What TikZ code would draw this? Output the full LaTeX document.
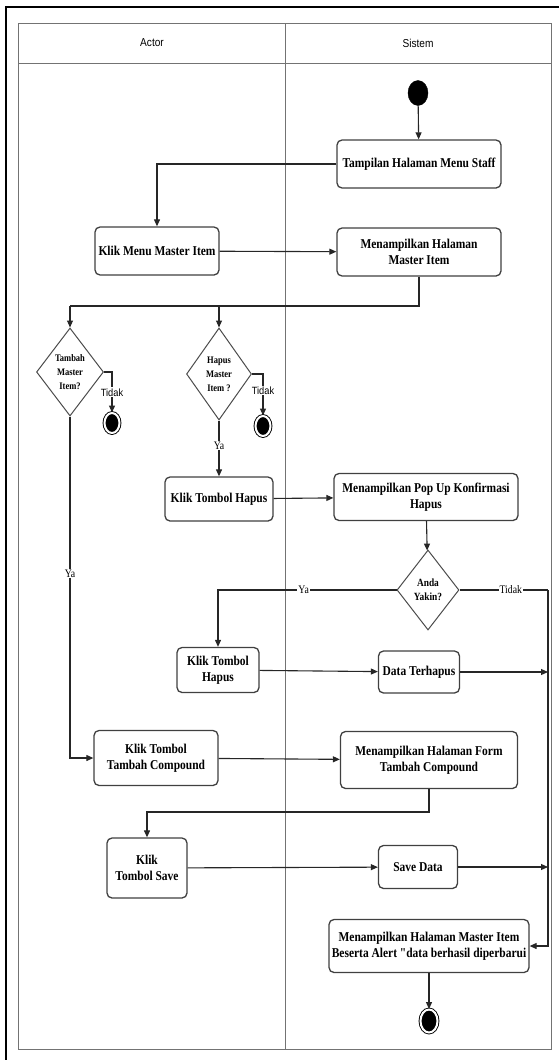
\documentclass[tikz,border=0pt]{standalone}
\usepackage{fontspec}
\usetikzlibrary{arrows.meta,shapes.geometric,calc}
\newfontfamily\serifcond[FakeStretch=0.85]{Liberation Serif}
\newfontfamily\sanscond[FakeStretch=0.88]{Liberation Sans}

\begin{document}
\begin{tikzpicture}[x=1pt,y=-1pt,
  act/.style={draw=black!75, line width=1.3pt, rounded corners=5pt, fill=white,
    align=center, inner sep=1pt,
    font=\serifcond\bfseries\fontsize{13.5}{15.5}\selectfont},
  dec/.style={diamond, draw=black!70, line width=1pt, fill=white, inner sep=0pt,
    align=center},
  flow/.style={draw=black!85, line width=1.1pt, -{Triangle[length=7pt,width=6pt]}},
  link/.style={draw=black!85, line width=1.1pt},
  lane/.style={draw=black!55, line width=1pt},
  serlbl/.style={fill=white, inner sep=1pt, font=\serifcond\fontsize{11.5}{12}\selectfont},
  sanslbl/.style={fill=white, inner sep=1pt, font=\sanscond\fontsize{10.5}{11}\selectfont},
  startnode/.style={ellipse, fill=black, draw=black, minimum width=20pt, minimum height=25pt, inner sep=0pt},
  endnode/.style={ellipse, fill=black, draw=black, line width=0.9pt, double=white,
    double distance=2pt, minimum width=15pt, minimum height=20pt, inner sep=0pt},
  hdr/.style={font=\sanscond\fontsize{11.5}{12}\selectfont}
]
\useasboundingbox (0,0) rectangle (559,1060);

% outer frame
\draw[line width=2.5pt] (6,1065) -- (6,7) -- (565,7);

% swimlanes
\draw[lane] (18,23) rectangle (551,1049);
\draw[lane] (18,63) -- (551,63);
\draw[lane] (285,23) -- (285,1049);
\node[hdr] (hActor) at (152,43) {Actor};
\node[hdr] (hSistem) at (418,43) {Sistem};

% activities
\node[startnode] (start) at (418,93) {};
\node[act, minimum width=164pt, minimum height=48pt] (b1) at (419,164) {Tampilan Halaman Menu Staff};
\node[act, minimum width=124pt, minimum height=48pt] (b2) at (157,251) {Klik Menu Master Item};
\node[act, minimum width=164pt, minimum height=48pt] (b3) at (419,252) {Menampilkan Halaman\\Master Item};

\node[dec, minimum width=67pt, minimum height=88pt,
  font=\serifcond\bfseries\fontsize{10}{14}\selectfont] (d1) at (70,372) {Tambah\\Master\\Item?};
\node[dec, minimum width=65pt, minimum height=92pt,
  font=\serifcond\bfseries\fontsize{10}{14}\selectfont] (d2) at (219,374) {Hapus\\Master\\Item ?};
\node[endnode] (e1) at (112,423) {};
\node[endnode] (e2) at (263,426) {};

\node[act, minimum width=108pt, minimum height=44pt] (h1) at (219,499) {Klik Tombol Hapus};
\node[act, minimum width=184pt, minimum height=47pt] (pop) at (426,497) {Menampilkan Pop Up Konfirmasi\\Hapus};
\node[dec, minimum width=62pt, minimum height=80pt,
  font=\serifcond\bfseries\fontsize{11}{14}\selectfont] (d3) at (428,590) {Anda\\Yakin?};

\node[act, minimum width=82pt, minimum height=45pt] (h2) at (218,670) {Klik Tombol\\Hapus};
\node[act, minimum width=81pt, minimum height=42pt] (del) at (419,672) {Data Terhapus};

\node[act, minimum width=124pt, minimum height=55pt] (tam) at (156,758) {Klik Tombol\\Tambah Compound};
\node[act, minimum width=177pt, minimum height=57pt] (form) at (429,760) {Menampilkan Halaman Form\\Tambah Compound};

\node[act, minimum width=80pt, minimum height=60pt] (save) at (147,868) {Klik\\Tombol Save};
\node[act, minimum width=79pt, minimum height=43pt] (sdata) at (418,867) {Save Data};

\node[act, minimum width=200pt, minimum height=53pt] (fin) at (429,946) {Menampilkan Halaman Master Item\\Beserta Alert "data berhasil diperbarui};
\node[endnode, minimum width=17pt, minimum height=23pt] (e3) at (429,1021) {};

% junction points
\coordinate (jL) at (70,306);
\coordinate (jM) at (219,306);
\coordinate (rBus) at (548,590);
\coordinate (tDel) at (548,672);
\coordinate (tSave) at (548,867);
\coordinate (bendSave) at (429,812);

% connectors
\draw[flow] (start) -- (b1);
\draw[flow] (b1.west) -| (b2.north);
\draw[flow] (b2) -- (b3);
\draw[link] (b3.south) |- (jL);
\draw[flow] (jL) -- (d1.north);
\draw[flow] (jM) -- (d2.north);

\draw[flow] (d1.east) -| node[sanslbl, pos=0.75] {Tidak} (e1.north);
\draw[flow] (d2.east) -| node[sanslbl, pos=0.7] {Tidak} (e2.north);
\draw[flow] (d2.south) -- node[serlbl, pos=0.45] {Ya} (h1.north);
\draw[flow] (d1.south) |- node[serlbl, pos=0.23] {Ya} (tam.west);

\draw[flow] (h1) -- (pop);
\draw[flow] (pop) -- (d3);
\draw[flow] (d3.west) -| node[serlbl, pos=0.26] {Ya} (h2.north);
\draw[link] (d3.east) -- node[serlbl, pos=0.58] {Tidak} (rBus);
\draw[flow] (rBus) |- (fin.east);

\draw[flow] (h2) -- (del);
\draw[flow] (del) -- (tDel);
\draw[flow] (tam) -- (form);
\draw[flow] (form.south) -- (bendSave) -| (save.north);
\draw[flow] (save) -- (sdata);
\draw[flow] (sdata) -- (tSave);
\draw[flow] (fin) -- (e3);
\end{tikzpicture}
\end{document}
